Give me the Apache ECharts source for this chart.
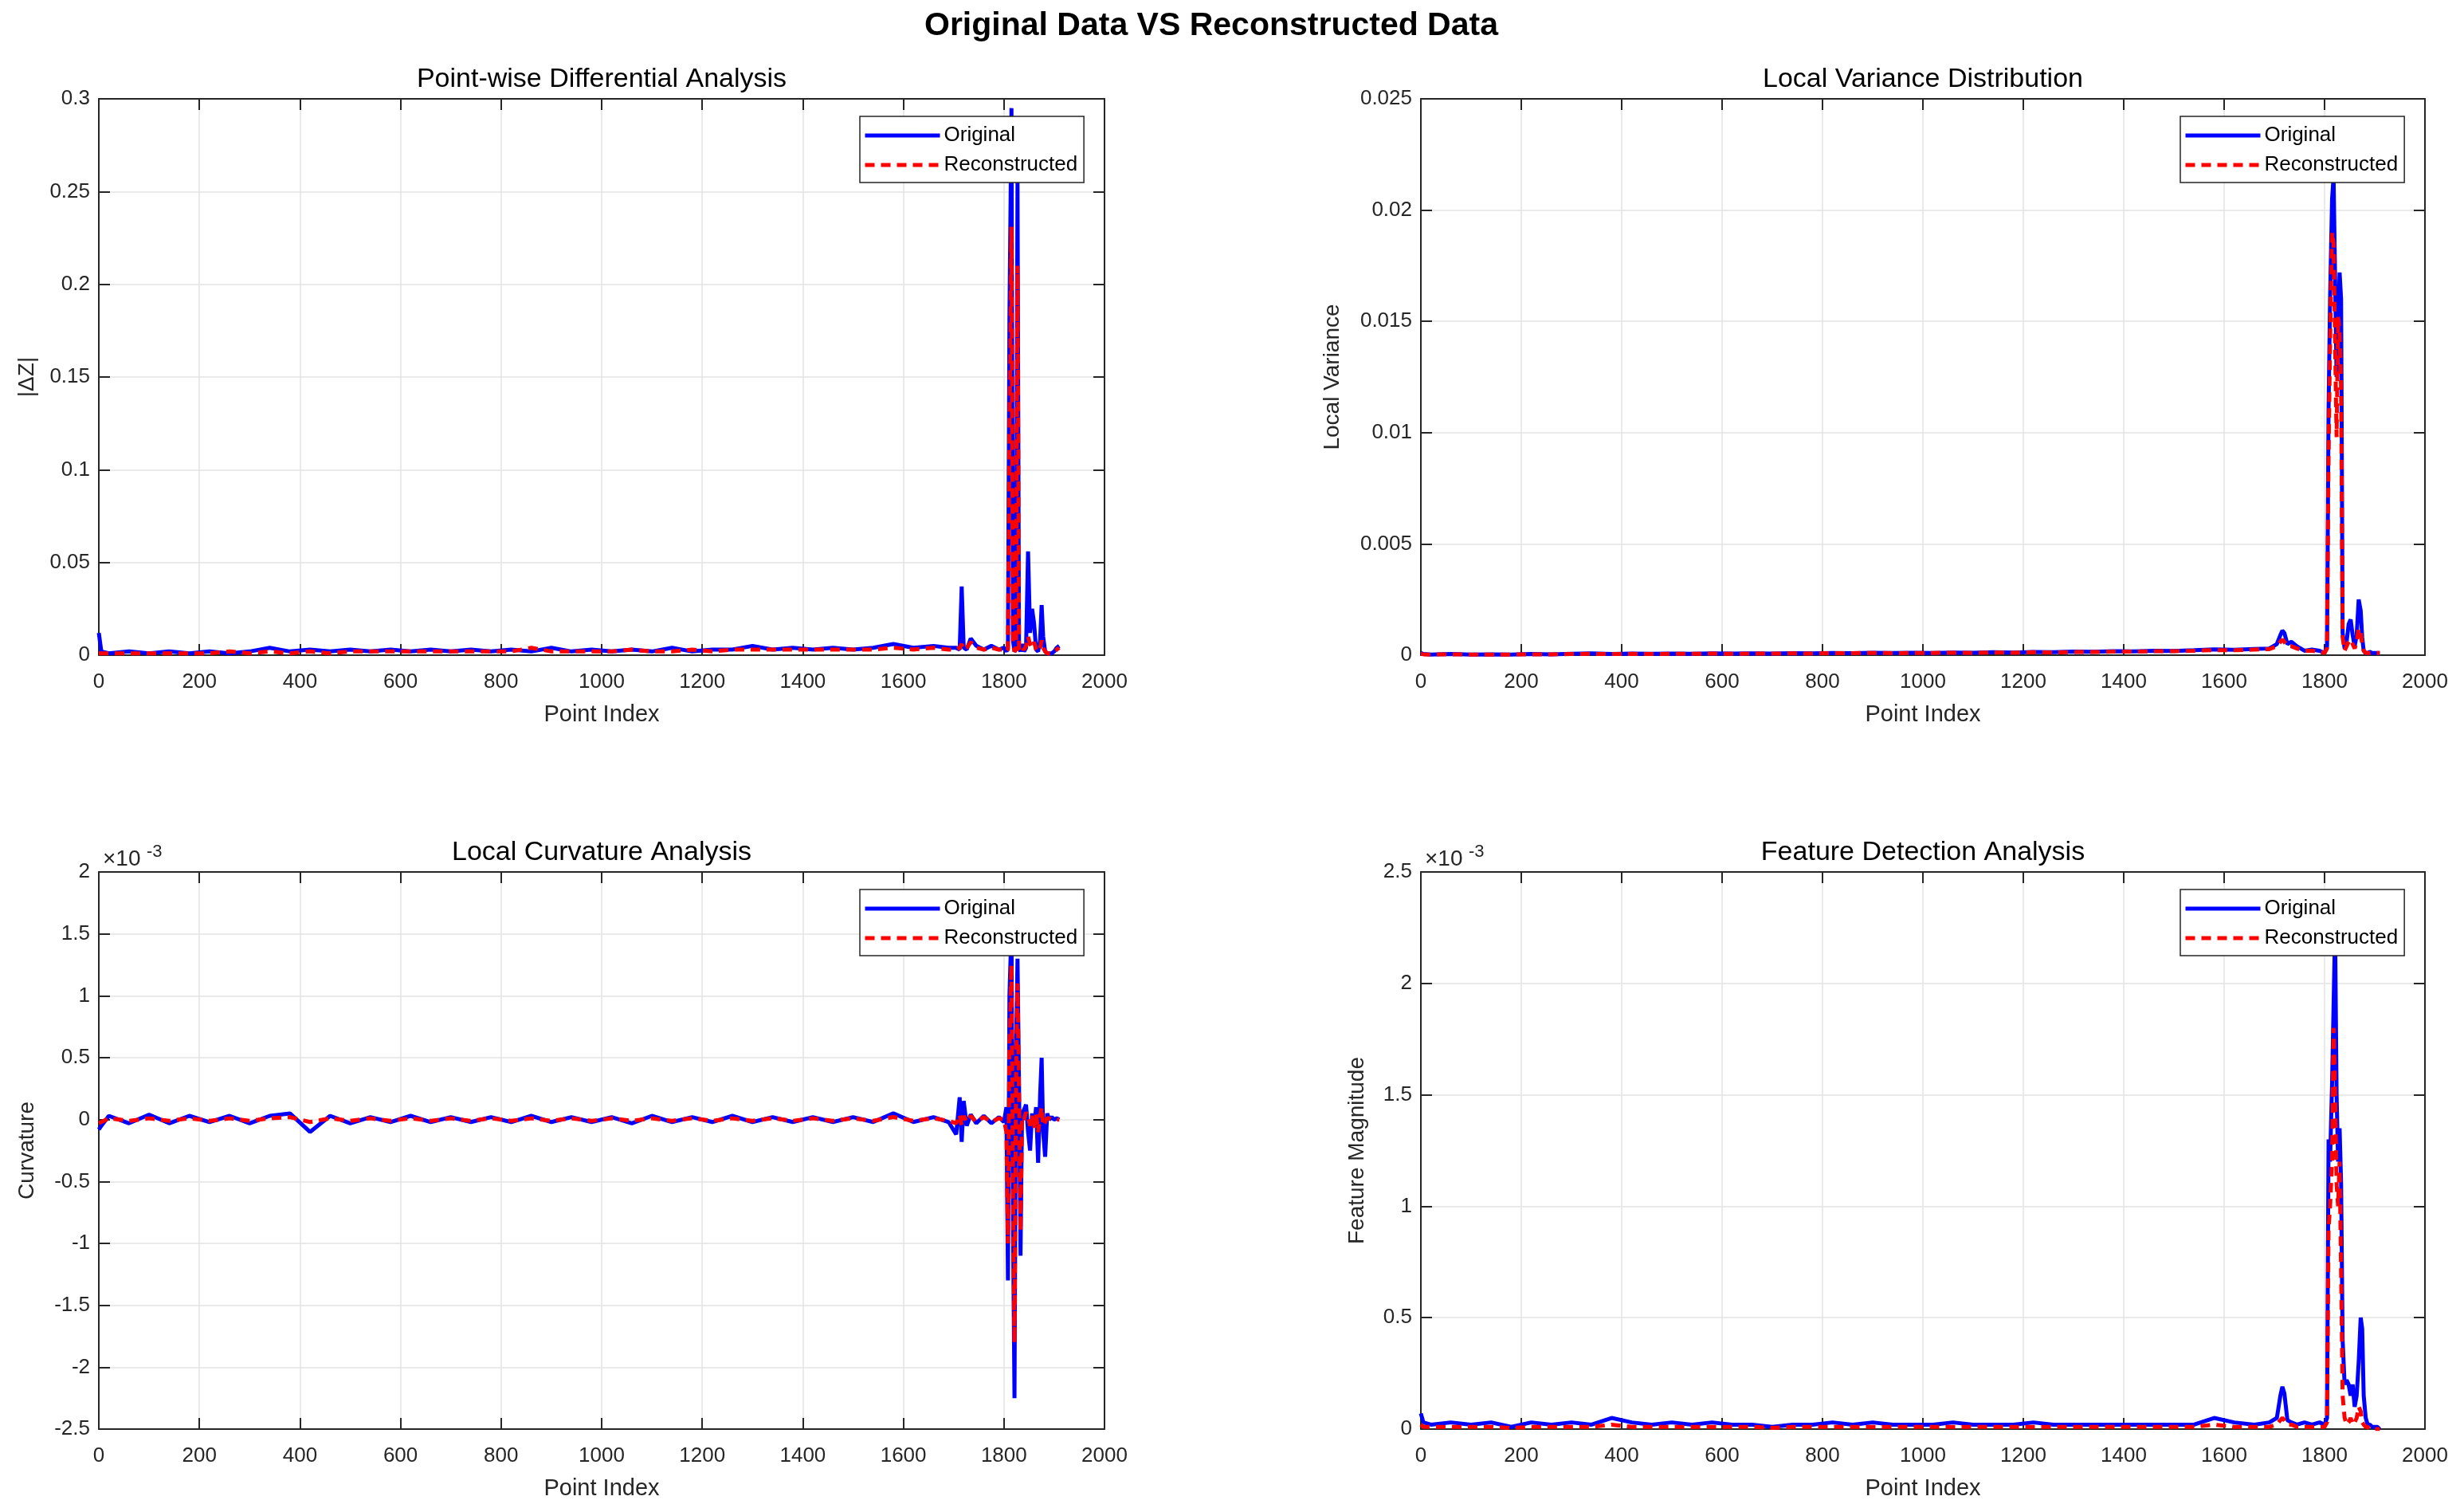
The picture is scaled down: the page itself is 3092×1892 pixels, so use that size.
<!DOCTYPE html>
<html>
<head>
<meta charset="utf-8">
<title>Original Data VS Reconstructed Data</title>
<script src="https://cdn.jsdelivr.net/npm/echarts@6/dist/echarts.min.js"></script>
<style>
  html, body { margin: 0; padding: 0; background: #fff; }
  #main { width: 3092px; height: 1892px; }
</style>
</head>
<body>
<div id="main"></div>
<script>
// point index (x) shared by every panel
var pointIdx = [0, 5, 20, 60, 100, 140, 180, 220, 260, 300,
  340, 380, 420, 460, 500, 540, 580, 620, 660, 700,
  740, 780, 820, 860, 900, 940, 980, 1020, 1060, 1100,
  1140, 1180, 1220, 1260, 1300, 1340, 1380, 1420, 1460, 1500,
  1540, 1580, 1620, 1660, 1690,
  1705, 1712, 1716, 1720, 1726, 1734, 1745, 1760, 1775, 1790,
  1800, 1805, 1808, 1811, 1815, 1818, 1821, 1824, 1827, 1830,
  1833, 1836, 1840, 1844, 1848, 1852, 1856, 1860, 1864, 1868,
  1872, 1875, 1878, 1882, 1886, 1890, 1895, 1900, 1905, 1910];

// |dZ|
var diffOrig = [0.012, 0.002, 0.001, 0.002, 0.001, 0.002, 0.001, 0.002, 0.001, 0.002,
  0.004, 0.002, 0.003, 0.002, 0.003, 0.002, 0.003, 0.002, 0.003, 0.002,
  0.003, 0.002, 0.003, 0.002, 0.004, 0.002, 0.003, 0.002, 0.003, 0.002,
  0.004, 0.002, 0.003, 0.003, 0.005, 0.003, 0.004, 0.003, 0.004, 0.003,
  0.004, 0.006, 0.004, 0.005, 0.004,
  0.004, 0.003, 0.037, 0.004, 0.003, 0.009, 0.005, 0.003, 0.005, 0.003,
  0.004, 0.002, 0.004, 0.182, 0.295, 0.008, 0.002, 0.003, 0.255, 0.004,
  0.002, 0.006, 0.002, 0.004, 0.056, 0.012, 0.025, 0.017, 0.003, 0.002,
  0.008, 0.027, 0.010, 0.002, 0.001, 0.001, 0.001, 0.002, 0.004, 0.005];
var diffRecon = [0.001, 0.001, 0.001, 0.001, 0.001, 0.001, 0.001, 0.001, 0.002, 0.001,
  0.002, 0.001, 0.002, 0.001, 0.002, 0.002, 0.002, 0.002, 0.002, 0.002,
  0.002, 0.002, 0.002, 0.004, 0.002, 0.002, 0.002, 0.002, 0.003, 0.002,
  0.002, 0.003, 0.002, 0.003, 0.003, 0.003, 0.003, 0.003, 0.003, 0.003,
  0.003, 0.004, 0.003, 0.004, 0.003,
  0.003, 0.004, 0.006, 0.003, 0.004, 0.007, 0.004, 0.003, 0.004, 0.003,
  0.003, 0.002, 0.003, 0.120, 0.231, 0.006, 0.002, 0.003, 0.210, 0.003,
  0.002, 0.004, 0.003, 0.005, 0.010, 0.006, 0.004, 0.007, 0.003, 0.002,
  0.004, 0.008, 0.004, 0.002, 0.001, 0.001, 0.001, 0.002, 0.003, 0.004];

// local variance
var varOrig = [0.0001, 0.00005, 0.00003, 0.00005, 0.00003, 0.00004, 0.00003, 0.00005, 0.00004, 0.00006,
  0.00008, 0.00005, 0.00007, 0.00006, 0.00007, 0.00006, 0.00008, 0.00007, 0.00008, 0.00007,
  0.00009, 0.00008, 0.0001, 0.00009, 0.00011, 0.0001, 0.00011, 0.0001, 0.00012, 0.00011,
  0.00013, 0.00012, 0.00014, 0.00013, 0.00016, 0.00015, 0.00018, 0.00017, 0.0002, 0.00019,
  0.00022, 0.00026, 0.00024, 0.00028, 0.0003,
  0.0005, 0.0009, 0.0011, 0.001, 0.0005, 0.0006, 0.0004, 0.0002, 0.00025, 0.0002,
  0.0001, 0.0004, 0.011, 0.016, 0.0205, 0.0215, 0.017, 0.0125, 0.015, 0.0172,
  0.016, 0.001, 0.0003, 0.0006, 0.0014, 0.0016, 0.0009, 0.0004, 0.0009, 0.0025,
  0.002, 0.0008, 0.0002, 0.0001, 0.0001, 0.00015, 0.0001, 0.0001, 0.0001, 0.0001];
var varRecon = [0.00005, 0.00004, 0.00003, 0.00004, 0.00003, 0.00003, 0.00003, 0.00004, 0.00004, 0.00005,
  0.00006, 0.00005, 0.00006, 0.00005, 0.00006, 0.00006, 0.00007, 0.00006, 0.00007, 0.00007,
  0.00008, 0.00007, 0.00009, 0.00009, 0.0001, 0.00009, 0.0001, 0.0001, 0.00011, 0.0001,
  0.00012, 0.00011, 0.00013, 0.00012, 0.00014, 0.00014, 0.00016, 0.00016, 0.00018, 0.00018,
  0.0002, 0.00023, 0.00022, 0.00025, 0.00027,
  0.0004, 0.0006, 0.0007, 0.0006, 0.0004, 0.0004, 0.0003, 0.0002, 0.0002, 0.00015,
  0.0001, 0.0003, 0.009, 0.014, 0.019, 0.0185, 0.014, 0.0098, 0.0152, 0.0145,
  0.012, 0.0008, 0.0002, 0.0004, 0.0006, 0.0007, 0.0005, 0.0003, 0.0006, 0.0012,
  0.001, 0.0005, 0.0002, 0.0001, 0.0001, 0.0001, 0.0001, 0.0001, 0.0001, 0.0001];

// curvature, in units of 1e-3 (as on the axis)
var curvOrig = [-0.08, -0.05, 0.03, -0.03, 0.04, -0.03, 0.03, -0.02, 0.03, -0.03,
  0.03, 0.05, -0.1, 0.03, -0.03, 0.02, -0.02, 0.03, -0.02, 0.02,
  -0.02, 0.02, -0.02, 0.03, -0.02, 0.02, -0.02, 0.02, -0.03, 0.03,
  -0.02, 0.02, -0.02, 0.03, -0.02, 0.02, -0.02, 0.02, -0.02, 0.02,
  -0.02, 0.05, -0.02, 0.02, -0.02,
  -0.12, 0.18, -0.18, 0.15, -0.05, 0.04, -0.03, 0.03, -0.03, 0.02,
  -0.02, 0.1, -1.3, 1.0, 1.55, -0.8, -2.25, 0.5, 1.3, 0.3,
  -1.1, 0.05, 0.08, 0.12, -0.1, -0.25, 0.05, -0.05, 0.1, -0.35,
  0.2, 0.5, -0.1, -0.3, 0.05, 0.0, 0.02, 0.0, 0.01, 0.0];
var curvRecon = [-0.03, -0.02, 0.01, -0.01, 0.01, -0.01, 0.01, -0.01, 0.01, -0.01,
  0.01, 0.02, -0.02, 0.01, -0.01, 0.01, -0.01, 0.01, -0.01, 0.01,
  -0.01, 0.01, -0.01, 0.01, -0.01, 0.01, -0.01, 0.01, -0.01, 0.01,
  -0.01, 0.01, -0.01, 0.01, -0.01, 0.01, -0.01, 0.01, -0.01, 0.01,
  -0.01, 0.02, -0.01, 0.01, -0.01,
  -0.03, 0.04, -0.05, 0.03, -0.02, 0.03, -0.02, 0.02, -0.02, 0.01,
  0.0, -0.1, -1.0, 0.6, 1.25, -0.5, -1.8, 0.3, 1.1, 0.2,
  -0.9, 0.02, 0.0, 0.06, 0.02, -0.05, 0.03, -0.08, 0.05, -0.1,
  0.03, 0.1, -0.05, -0.02, 0.01, 0.01, 0.0, 0.0, 0.0, 0.0];

// feature magnitude, in units of 1e-3
var featOrig = [0.07, 0.03, 0.02, 0.03, 0.02, 0.03, 0.01, 0.03, 0.02, 0.03,
  0.02, 0.05, 0.03, 0.02, 0.03, 0.02, 0.03, 0.02, 0.02, 0.01,
  0.02, 0.02, 0.03, 0.02, 0.03, 0.02, 0.02, 0.02, 0.03, 0.02,
  0.02, 0.02, 0.03, 0.02, 0.02, 0.02, 0.02, 0.02, 0.02, 0.02,
  0.02, 0.05, 0.03, 0.02, 0.03,
  0.05, 0.15, 0.19, 0.16, 0.04, 0.03, 0.02, 0.03, 0.02, 0.03,
  0.02, 0.05, 1.3, 1.2, 1.55, 1.9, 2.25, 1.5, 1.2, 1.35,
  1.1, 0.4, 0.2, 0.22, 0.2, 0.15, 0.2, 0.1, 0.15, 0.3,
  0.5, 0.45, 0.15, 0.05, 0.02, 0.02, 0.01, 0.01, 0.01, 0.0];
var featRecon = [0.02, 0.01, 0.01, 0.01, 0.01, 0.01, 0.005, 0.01, 0.01, 0.01,
  0.01, 0.02, 0.01, 0.01, 0.01, 0.01, 0.01, 0.01, 0.01, 0.005,
  0.01, 0.01, 0.01, 0.01, 0.01, 0.01, 0.01, 0.01, 0.01, 0.01,
  0.01, 0.01, 0.01, 0.01, 0.01, 0.01, 0.01, 0.01, 0.01, 0.01,
  0.01, 0.02, 0.01, 0.01, 0.01,
  0.02, 0.04, 0.05, 0.04, 0.02, 0.02, 0.01, 0.01, 0.01, 0.01,
  0.01, 0.03, 0.9, 1.0, 1.2, 1.8, 1.5, 1.1, 1.0, 1.2,
  0.7, 0.15, 0.05, 0.02, 0.03, 0.05, 0.02, 0.03, 0.05, 0.1,
  0.08, 0.03, 0.02, 0.01, 0.01, 0.0, 0.0, 0.0, 0.0, 0.0];

var panelTitles = ['Point-wise Differential Analysis', 'Local Variance Distribution',
  'Local Curvature Analysis', 'Feature Detection Analysis'];
var yNames = ['|\u0394Z|', 'Local Variance', 'Curvature', 'Feature Magnitude'];
var yMin = [0, 0, -2.5, 0];
var yMax = [0.3, 0.025, 2, 2.5];
var yStep = [0.05, 0.005, 0.5, 0.5];
var origData = [diffOrig, varOrig, curvOrig, featOrig];
var reconData = [diffRecon, varRecon, curvRecon, featRecon];

var FONT = 'Liberation Sans, Arial, Helvetica, sans-serif';
var INK = '#262626';

var grids = [
  {left: 124, top: 124, width: 1262, height: 698},
  {left: 1783, top: 124, width: 1260, height: 698},
  {left: 124, top: 1094, width: 1262, height: 699},
  {left: 1783, top: 1094, width: 1260, height: 699}
];
var yNameGap = [76, 97, 76, 66];

function pairs(vals) {
  return pointIdx.map(function (x, k) { return [x, vals[k]]; });
}

var xAxes = [], yAxes = [], series = [], legends = [], graphics = [];

grids.forEach(function (g, i) {
  var tick = {show: true, inside: true, length: 14, lineStyle: {color: INK, width: 2}};
  var line = {show: true, onZero: false, lineStyle: {color: INK, width: 2}};
  xAxes.push({
    type: 'value', gridIndex: i, position: 'bottom', min: 0, max: 2000, interval: 200,
    name: 'Point Index', nameLocation: 'middle', nameGap: 60,
    nameTextStyle: {fontFamily: FONT, fontSize: 29, color: INK},
    axisLine: line, axisTick: tick,
    axisLabel: {fontFamily: FONT, fontSize: 26, color: INK, margin: 21,
      formatter: function (v) { return String(v); }},
    splitLine: {show: true, lineStyle: {color: '#e3e3e3', width: 1.5}}
  });
  xAxes.push({
    type: 'value', gridIndex: i, position: 'top', min: 0, max: 2000, interval: 200,
    axisLine: line, axisTick: tick, axisLabel: {show: false}, splitLine: {show: false}
  });
  yAxes.push({
    type: 'value', gridIndex: i, position: 'left', min: yMin[i], max: yMax[i], interval: yStep[i],
    name: yNames[i], nameLocation: 'middle', nameGap: yNameGap[i], nameRotate: 90,
    nameTextStyle: {fontFamily: FONT, fontSize: 28, color: INK},
    axisLine: line, axisTick: tick,
    axisLabel: {fontFamily: FONT, fontSize: 26, color: INK, margin: 11,
      formatter: function (v) { return String(+v.toFixed(4)); }},
    splitLine: {show: true, lineStyle: {color: '#e3e3e3', width: 1.5}}
  });
  yAxes.push({
    type: 'value', gridIndex: i, position: 'right', min: yMin[i], max: yMax[i], interval: yStep[i],
    axisLine: line, axisTick: tick, axisLabel: {show: false}, splitLine: {show: false}
  });

  series.push({
    name: 'Original', type: 'line', xAxisIndex: 2 * i, yAxisIndex: 2 * i,
    data: pairs(origData[i]), symbol: 'none', showSymbol: false,
    lineStyle: {color: '#0000ff', width: 5}, itemStyle: {color: '#0000ff'}
  });
  series.push({
    name: 'Reconstructed', type: 'line', xAxisIndex: 2 * i, yAxisIndex: 2 * i,
    data: pairs(reconData[i]), symbol: 'none', showSymbol: false,
    lineStyle: {color: '#ff0000', width: 5, type: [12, 8]}, itemStyle: {color: '#ff0000'}
  });

  legends.push({
    left: g.left + g.width - 307, top: g.top + 22, orient: 'vertical',
    data: ['Original', 'Reconstructed'],
    backgroundColor: '#fff', borderColor: INK, borderWidth: 1.5,
    padding: [11, 8, 9, 4], itemGap: 11, itemWidth: 94, itemHeight: 14,
    itemStyle: {opacity: 0},
    lineStyle: {width: 5},
    textStyle: {fontFamily: FONT, fontSize: 26, color: '#000'}
  });

  graphics.push({
    type: 'text', x: g.left + g.width / 2, y: g.top - 24,
    style: {text: panelTitles[i], fontFamily: FONT, fontSize: 34, fill: '#000',
      textAlign: 'center', textVerticalAlign: 'middle'}
  });
  if (i >= 2) {
    graphics.push({
      type: 'text', x: g.left + 5, y: g.top - 2,
      style: {text: '\u00d710', fontFamily: FONT, fontSize: 28, fill: INK,
        textAlign: 'left', textVerticalAlign: 'bottom'}
    });
    graphics.push({
      type: 'text', x: g.left + 60, y: g.top - 14,
      style: {text: '-3', fontFamily: FONT, fontSize: 22, fill: INK,
        textAlign: 'left', textVerticalAlign: 'bottom'}
    });
  }
});

graphics.push({
  type: 'text', x: 1520, y: 33,
  style: {text: 'Original Data VS Reconstructed Data', fontFamily: FONT, fontSize: 41,
    fontWeight: 'bold', fill: '#000', textAlign: 'center', textVerticalAlign: 'middle'}
});

var myChart = echarts.init(document.getElementById('main'));
myChart.setOption({
  animation: false,
  backgroundColor: '#fff',
  grid: grids,
  xAxis: xAxes,
  yAxis: yAxes,
  legend: legends,
  series: series,
  graphic: graphics
});
</script>
</body>
</html>
